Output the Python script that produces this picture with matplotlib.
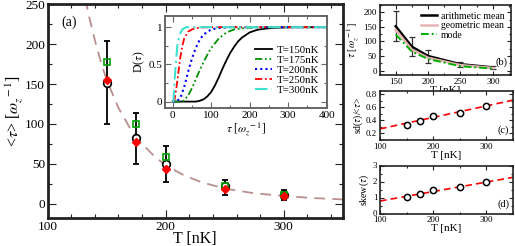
import matplotlib
matplotlib.use("Agg")
import matplotlib.pyplot as plt
from matplotlib.ticker import MultipleLocator

plt.rcParams['font.family'] = ['Liberation Serif', 'DejaVu Serif']
plt.rcParams['mathtext.fontset'] = 'stix'

# ---------------- data ----------------
T = [150, 175, 200, 250, 300]
mean_arith = [152, 82, 50, 22, 11]
mean_geo = [140, 72, 44, 19, 9]
mean_red = [155, 77, 43, 18, 10]
mode_vals = [178, 100, 59, 22, 11]
mode_line = [124, 65, 40, 15, 7]
err_hi = [204, 114, 72, 30, 17]
err_lo = [100, 50, 27, 11, 5]

fit_T = [130, 135, 140, 145, 150, 160, 170, 180, 190, 200, 215, 230, 250, 275, 300, 325, 350]
fit_tau = [270, 235, 205, 178, 155, 120, 94, 75, 60, 48, 36, 27, 19, 13, 9.7, 7, 5.3]

# inset CDFs D(tau)
tau_150 = [0, 60, 70, 80, 90, 100, 110, 120, 130, 140, 150, 160, 170, 180, 200, 220, 240, 260, 300, 400]
D_150 = [0, 0, 0.01, 0.03, 0.07, 0.13, 0.22, 0.33, 0.45, 0.56, 0.66, 0.74, 0.81, 0.86, 0.93, 0.965, 0.98, 0.99, 0.998, 1]
tau_175 = [0, 25, 30, 40, 50, 60, 70, 80, 90, 100, 120, 140, 160, 190, 220, 400]
D_175 = [0, 0, 0.02, 0.08, 0.18, 0.3, 0.42, 0.53, 0.63, 0.72, 0.85, 0.93, 0.97, 0.99, 1, 1]
tau_200 = [0, 10, 20, 30, 40, 50, 60, 70, 80, 100, 120, 150, 400]
D_200 = [0, 0, 0.05, 0.2, 0.4, 0.58, 0.72, 0.83, 0.9, 0.97, 0.99, 1, 1]
tau_250 = [0, 5, 10, 15, 20, 25, 30, 40, 50, 70, 100, 400]
D_250 = [0, 0.03, 0.2, 0.4, 0.6, 0.75, 0.85, 0.94, 0.97, 0.995, 1, 1]
tau_300 = [0, 2, 3, 5, 8, 12, 18, 25, 35, 400]
D_300 = [0, 0, 0.1, 0.3, 0.5, 0.75, 0.9, 0.97, 1, 1]
inset_labels = ['T=150nK', 'T=175nK', 'T=200nK', 'T=250nK', 'T=300nK']

sd_ratio = [0.33, 0.385, 0.465, 0.52, 0.615]
skew = [1.05, 1.2, 1.45, 1.64, 1.97]
lin_T = [100, 350]
sd_fit = [0.27, 0.71]
skew_fit = [0.78, 2.26]

# ---------------- figure ----------------
W, H = 515, 246
fig = plt.figure(figsize=(W / 100, H / 100), dpi=100)

def frac(l, t, r, b):
    return [l / W, 1 - b / H, (r - l) / W, (b - t) / H]

def style(ax, lw=1.5, color='#222222', ml=4, mn=2, fs=7):
    for s in ax.spines.values():
        s.set_linewidth(lw)
        s.set_color(color)
    ax.tick_params(which='both', direction='in', top=True, right=True,
                   labelsize=fs, color=color, width=0.8, pad=2)
    ax.tick_params(which='major', length=ml)
    ax.tick_params(which='minor', length=mn)

# main
ax = fig.add_axes(frac(47.7, 4.4, 342.7, 218))
ax.plot(fit_T, fit_tau, ls=(0, (6, 4)), color='#bc8f8f', lw=1.3, zorder=1)
ax.errorbar(T, mean_arith,
            yerr=[[m - l for m, l in zip(mean_arith, err_lo)],
                  [h - m for m, h in zip(mean_arith, err_hi)]],
            fmt='none', ecolor='black', elinewidth=1.3, capsize=2.5, capthick=1.3, zorder=2)
ax.plot(T, mean_arith, 'o', mfc='white', mec='black', mew=1.2, ms=5.5, ls='none', zorder=3)
ax.plot(T, mode_vals, 's', mfc='none', mec='#00a000', mew=1.2, ms=5, ls='none', zorder=4)
ax.plot(T, mean_red, 'D', mfc='red', mec='red', ms=4.5, ls='none', zorder=5)
ax.set_xlim(100, 350)
ax.set_ylim(-18, 250)
ax.xaxis.set_major_locator(MultipleLocator(100))
ax.xaxis.set_minor_locator(MultipleLocator(20))
ax.yaxis.set_major_locator(MultipleLocator(50))
ax.yaxis.set_minor_locator(MultipleLocator(25))
style(ax, lw=2, ml=6, mn=3, fs=9.5)
ax.set_xlabel('T [nK]', fontsize=11.5, labelpad=-1)
ax.set_ylabel(r'<$\tau$> [$\omega_z^{\ -1}$]', fontsize=11.5, labelpad=0)
ax.text(0.045, 0.95, '(a)', transform=ax.transAxes, fontsize=10, va='top')

# inset
ai = fig.add_axes(frac(165, 16, 326.7, 108.3))
ai.plot(tau_150, D_150, '-', color='black', lw=1.3, label=inset_labels[0])
ai.plot(tau_175, D_175, ls=(0, (4, 1.5, 1, 1.5, 1, 1.5)), color='#009000', lw=1.3, label=inset_labels[1])
ai.plot(tau_200, D_200, ls=(0, (1, 1.5)), color='blue', lw=1.5, label=inset_labels[2])
ai.plot(tau_250, D_250, ls=(0, (4, 1.5, 1, 1.5)), color='red', lw=1.3, label=inset_labels[3])
ai.plot(tau_300, D_300, ls=(0, (6, 2, 1, 2)), color='#40e0d0', lw=1.5, label=inset_labels[4])
ai.set_xlim(-20, 400)
ai.set_ylim(-0.09, 1.15)
ai.xaxis.set_major_locator(MultipleLocator(100))
ai.xaxis.set_minor_locator(MultipleLocator(50))
ai.yaxis.set_major_locator(MultipleLocator(0.5))
ai.yaxis.set_minor_locator(MultipleLocator(0.25))
ai.set_yticks([0, 0.5, 1])
ai.set_yticklabels(['0', '0.5', '1'])
style(ai, lw=1.4, color='#666666', ml=4, mn=2, fs=8)
ai.tick_params(labelcolor='black')
ai.set_xlabel(r'$\tau$ [$\omega_z^{\ -1}$]', fontsize=8.5, labelpad=0)
ai.set_ylabel(r'D($\tau$)', fontsize=8.5, labelpad=1)
ai.legend(loc='lower right', frameon=False, fontsize=7.8, handlelength=1.6,
          handletextpad=0.4, labelspacing=0.05, borderaxespad=0.3, bbox_to_anchor=(1.0, 0.06))

# (b)
ab = fig.add_axes(frac(379.5, 5, 511, 75))
ab.errorbar(T, mean_arith,
            yerr=[[m - l for m, l in zip(mean_arith, err_lo)],
                  [h - m for m, h in zip(mean_arith, err_hi)]],
            fmt='none', ecolor='#333333', elinewidth=0.9, capsize=2, capthick=0.9)
ab.plot(T, mean_arith, '-', color='black', lw=1.8, label='arithmetic mean')
ab.plot(T, mean_geo, '-', color='#e6b4b4', lw=1.8, label='geometric mean')
ab.plot(T, mode_line, ls=(0, (4, 1.5, 1, 1.5)), color='#00b000', lw=1.4, label='mode')
ab.set_xlim(125, 328)
ab.set_ylim(-15, 225)
ab.xaxis.set_major_locator(MultipleLocator(50))
ab.xaxis.set_minor_locator(MultipleLocator(25))
ab.yaxis.set_major_locator(MultipleLocator(50))
ab.yaxis.set_minor_locator(MultipleLocator(25))
style(ab, lw=1.2, ml=3, mn=1.5, fs=6.5)
ab.set_xlabel('T [nK]', fontsize=8, labelpad=0)
ab.set_ylabel(r'$\tau$ [$\omega_z^{\ -1}$]', fontsize=7.5, labelpad=1)
ab.legend(loc='upper right', frameon=False, fontsize=7, handlelength=1.6,
          handletextpad=0.4, labelspacing=0.05, borderaxespad=0.3)
ab.text(0.97, 0.12, '(b)', transform=ab.transAxes, fontsize=7.5, ha='right', va='bottom')

# (c)
ac = fig.add_axes(frac(380, 91, 513, 140))
ac.plot(lin_T, sd_fit, ls=(0, (4, 2.5)), color='red', lw=1.2)
ac.plot(T, sd_ratio, 'o', mfc='white', mec='black', mew=1.1, ms=4.5, ls='none')
ac.set_xlim(100, 350)
ac.set_ylim(0.1, 0.85)
ac.xaxis.set_major_locator(MultipleLocator(100))
ac.xaxis.set_minor_locator(MultipleLocator(50))
ac.yaxis.set_major_locator(MultipleLocator(0.2))
ac.yaxis.set_minor_locator(MultipleLocator(0.1))
style(ac, lw=1.2, ml=3, mn=1.5, fs=6.5)
ac.set_xlabel('T [nK]', fontsize=8, labelpad=0)
ac.set_ylabel(r'sd($\tau$)/<$\tau$>', fontsize=7, labelpad=1)
ac.text(0.97, 0.1, '(c)', transform=ac.transAxes, fontsize=7.5, ha='right', va='bottom')

# (d)
ad = fig.add_axes(frac(380, 165.5, 513, 213.5))
ad.plot(lin_T, skew_fit, ls=(0, (4, 2.5)), color='red', lw=1.2)
ad.plot(T, skew, 'o', mfc='white', mec='black', mew=1.1, ms=4.5, ls='none')
ad.set_xlim(100, 350)
ad.set_ylim(0, 3)
ad.xaxis.set_major_locator(MultipleLocator(100))
ad.xaxis.set_minor_locator(MultipleLocator(50))
ad.yaxis.set_major_locator(MultipleLocator(1))
ad.yaxis.set_minor_locator(MultipleLocator(0.5))
style(ad, lw=1.2, ml=3, mn=1.5, fs=6.5)
ad.set_xlabel('T [nK]', fontsize=8, labelpad=0)
ad.set_ylabel(r'skew($\tau$)', fontsize=7, labelpad=1)
ad.text(0.97, 0.1, '(d)', transform=ad.transAxes, fontsize=7.5, ha='right', va='bottom')

fig.savefig('out.png', dpi=100)
